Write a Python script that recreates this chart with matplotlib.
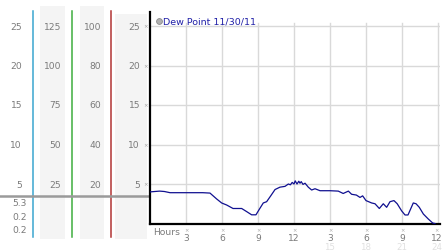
import matplotlib
matplotlib.use("Agg")
import matplotlib.pyplot as plt

# ---------------- data ----------------
hours = [0.0, 0.4, 0.8, 1.2, 1.67, 2.5, 3.5, 4.4, 5.0, 5.56, 5.97, 6.39, 6.92, 7.64,
         8.06, 8.47, 8.83, 9.11, 9.44, 9.72, 10.06, 10.42, 10.83, 11.25, 11.53, 11.7,
         11.85, 12.0, 12.1, 12.25, 12.4, 12.5, 12.6, 12.75, 12.92, 13.19, 13.47, 13.75,
         14.17, 15.0, 15.69, 16.1, 16.53, 16.8, 17.2, 17.5, 17.72, 18.0, 18.47, 18.75,
         19.11, 19.44, 19.72, 20.0, 20.33, 20.6, 20.97, 21.25, 21.5, 21.72, 21.94, 22.17,
         22.44, 22.78, 23.19, 23.56, 23.75]
dew_point = [4.0, 4.05, 4.1, 4.05, 3.9, 3.9, 3.9, 3.9, 3.85, 3.1, 2.6, 2.34, 1.9, 1.9,
             1.5, 1.1, 1.1, 1.8, 2.6, 2.76, 3.5, 4.3, 4.6, 4.7, 5.0, 4.9,
             5.2, 5.0, 5.4, 5.0, 5.35, 5.1, 5.3, 4.95, 5.1, 4.6, 4.24, 4.4,
             4.15, 4.15, 4.1, 3.8, 4.1, 3.7, 3.6, 3.3, 3.5, 2.9, 2.6, 2.5,
             1.9, 2.5, 2.05, 2.76, 2.9, 2.5, 1.6, 1.08, 1.08, 1.84, 2.6, 2.5,
             2.05, 1.2, 0.57, 0.06, 0.0]

y_ticks = [5, 10, 15, 20, 25]
col1_labels = ["25", "20", "15", "10", "5"]
col2_labels = ["125", "100", "75", "50", "25"]
col3_labels = ["100", "80", "60", "40", "20"]
col4_labels = ["25", "20", "15", "10", "5"]
col_values = [25, 20, 15, 10, 5]
current_labels = ["5.3", "0.2", "0.2"]
x_ticks = [3, 6, 9, 12, 15, 18, 21, 24]
x_labels_top = ["3", "6", "9", "12", "3", "6", "9", "12"]
x_labels_bottom = ["", "", "", "", "15", "18", "21", "24"]
legend_label = "Dew Point 11/30/11"

# ---------------- layout ----------------
W, H = 442, 253
fig = plt.figure(figsize=(W / 100, H / 100), dpi=100)
fig.patch.set_facecolor("white")

Y0, SCALE = 224.5, 7.9      # pixel row of value 0, pixels per unit
def py(v):
    return Y0 - SCALE * v

GRAY_TXT = "#7a7a7a"
FS = 6.6

# left panel in pixel coordinates
lax = fig.add_axes([0, 0, 150 / W, 1])
lax.set_xlim(0, 150)
lax.set_ylim(H, 0)
lax.axis("off")

for x0, x1, y0 in [(40, 65, 7), (80, 104, 7), (115, 147, 15)]:
    lax.fill_between([x0, x1], y0, 240, color="#f4f4f4", lw=0, zorder=0)

for xc, col in [(33, "#3aa6cf"), (72, "#3fae3f"), (111, "#b23434")]:
    lax.plot([xc, xc], [12, 238], color=col, lw=1.1, zorder=2)

lax.plot([0, 150], [197, 197], color="#9a9a9a", lw=1.8, zorder=3)

for v, a, b, c, d in zip(col_values, col1_labels, col2_labels, col3_labels, col4_labels):
    yy = py(v)
    lax.text(22, yy, a, ha="right", va="center", fontsize=FS, color=GRAY_TXT)
    lax.text(61, yy, b, ha="right", va="center", fontsize=FS, color=GRAY_TXT)
    lax.text(101, yy, c, ha="right", va="center", fontsize=FS, color=GRAY_TXT)
    lax.text(140, yy, d, ha="right", va="center", fontsize=FS, color=GRAY_TXT)
    lax.text(145.5, yy, "×", ha="center", va="center", fontsize=4, color="#a0a0a0")

for i, s in enumerate(current_labels):
    lax.text(27, 204 + 13.5 * i, s, ha="right", va="center", fontsize=FS, color=GRAY_TXT)

# main plot
left_px, right_px, top_px = 150, 440, 13
ax = fig.add_axes([left_px / W, (H - Y0) / H, (right_px - left_px) / W, (Y0 - top_px) / H])
ax.set_xlim(0, (right_px - left_px) / 12.0)
ax.set_ylim(0, (Y0 - top_px) / SCALE)
ax.set_facecolor("white")
for s in ["top", "right"]:
    ax.spines[s].set_visible(False)
for s in ["left", "bottom"]:
    ax.spines[s].set_color("black")
    ax.spines[s].set_linewidth(1.6)
ax.set_xticks([])
ax.set_yticks([])

for v in y_ticks:
    ax.axhline(v, color="#d9d9d9", lw=1.0, zorder=0)
for h in x_ticks:
    ax.plot([h, h], [0, 25.4], color="#d9d9d9", lw=1.0, zorder=0)

ax.plot(hours, dew_point, color="#101090", lw=0.9, zorder=3)

# legend
ax.plot([0.78], [25.6], marker="o", ms=4.2, mfc="#b0b0b0", mec="#8a8a8a", mew=0.6,
        clip_on=False, zorder=4)
ax.text(1.05, 25.6, legend_label, ha="left", va="center", fontsize=6.8, color="#2020a8")

# x axis labels
ax.text(0.28, -0.95, "Hours", ha="left", va="center", fontsize=FS, color=GRAY_TXT, clip_on=False)
for h, t, b in zip(x_ticks, x_labels_top, x_labels_bottom):
    hx = h - 0.12 if h == x_ticks[-1] else h
    ax.text(hx, -0.8, "×", ha="center", va="center", fontsize=3.8, color="#a8a8a8")
    ax.text(hx, -1.8, t, ha="center", va="center", fontsize=FS, color=GRAY_TXT)
    if b:
        ax.text(hx, -2.85, b, ha="center", va="center", fontsize=6.2, color="#e0e0e0")

fig.savefig("out.png", dpi=100, facecolor="white")
